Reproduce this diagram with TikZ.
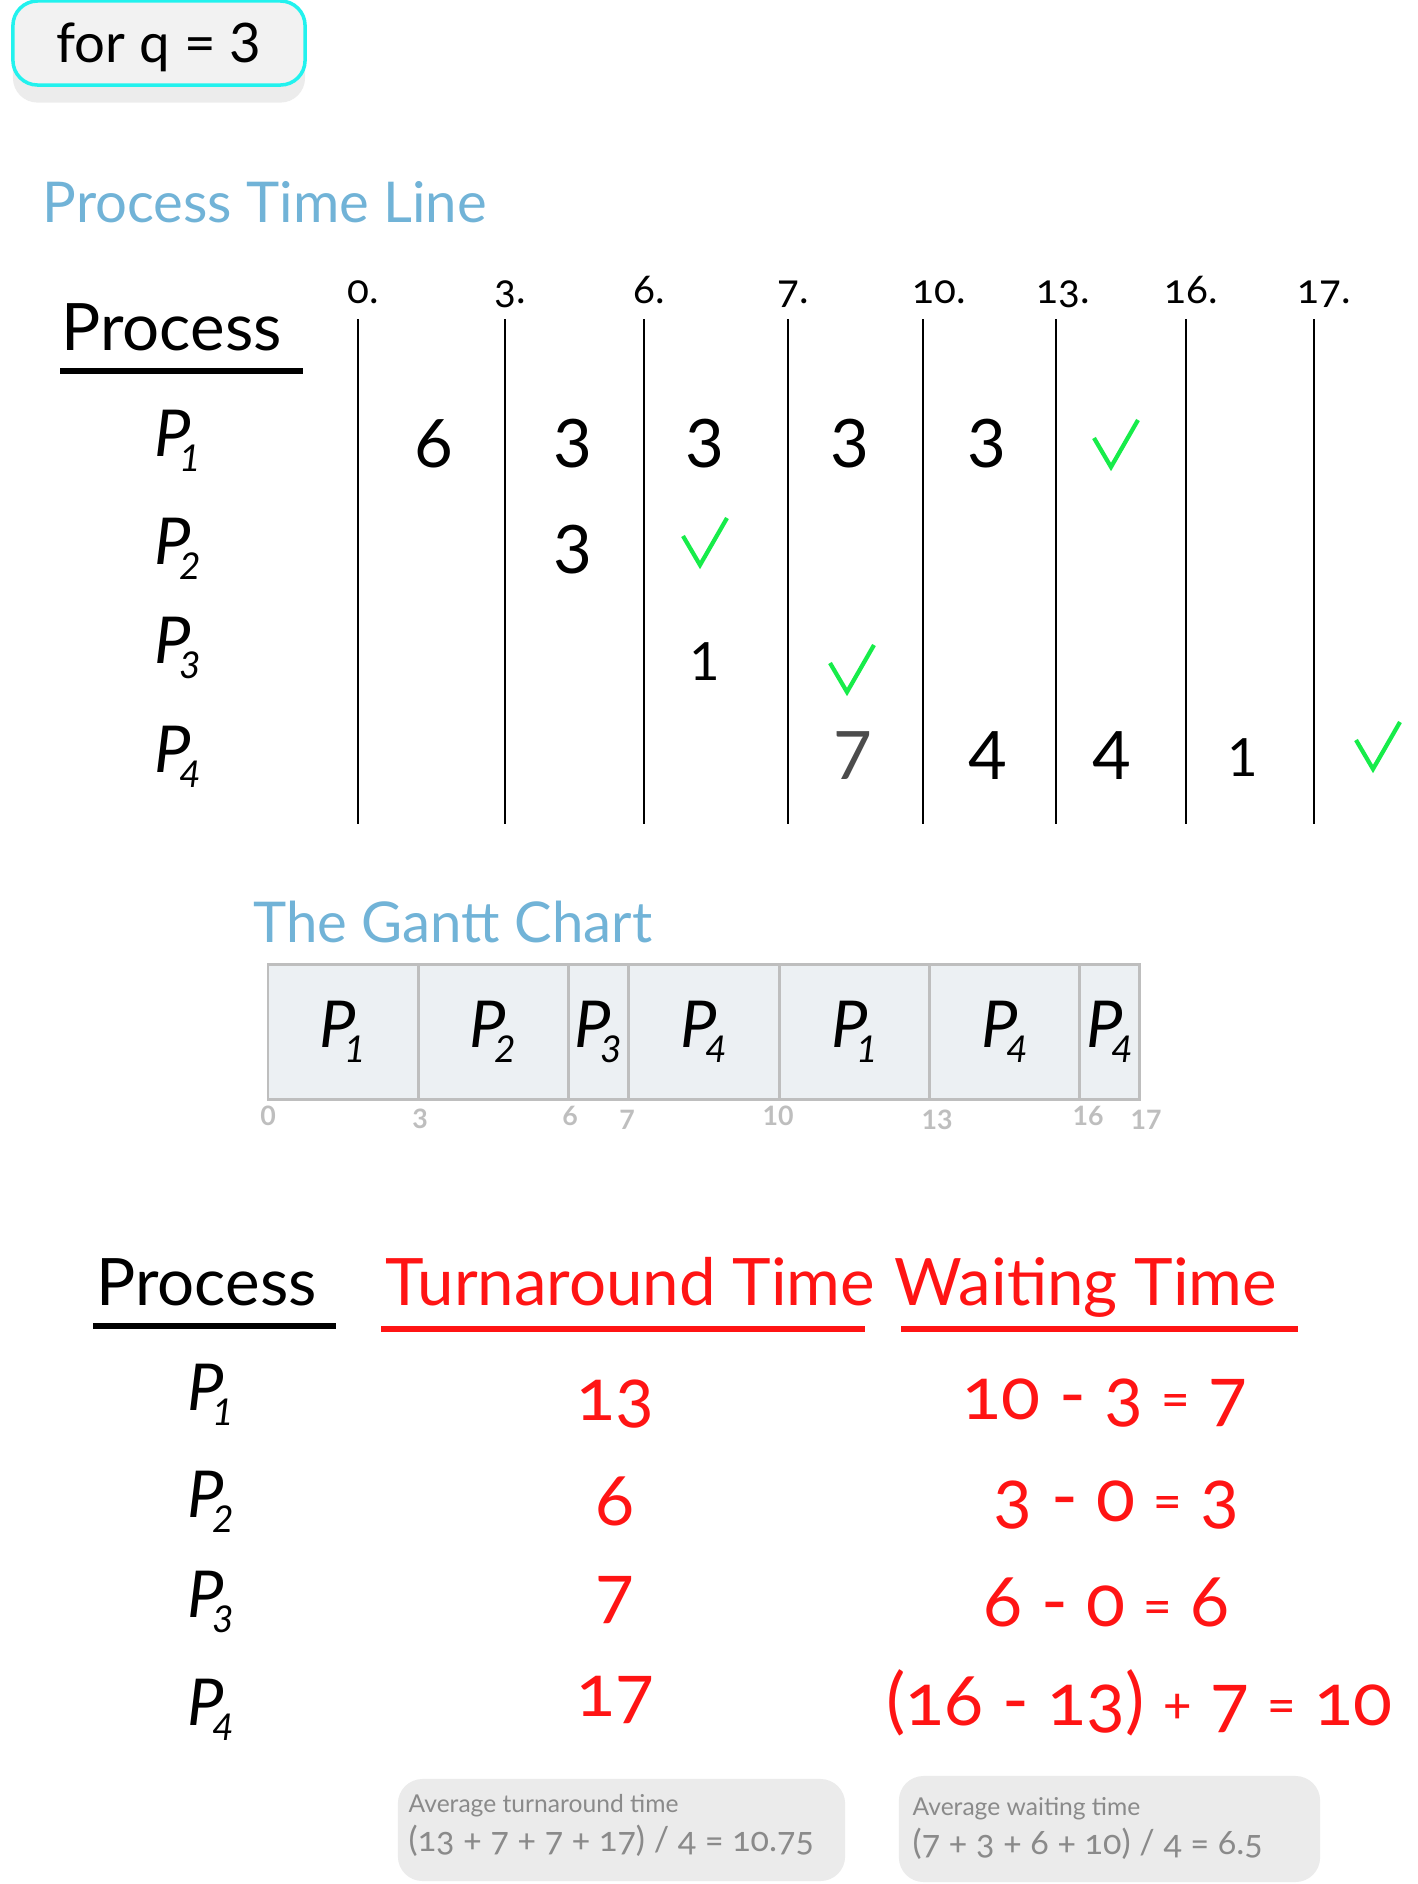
\documentclass[tikz,border=0pt]{standalone}
\usepackage{fontspec}
\setmainfont{Lato}
\newfontfamily\oldfig[Numbers=OldStyle]{Lato}
\usetikzlibrary{positioning, shadows}
\definecolor{tlblue}{HTML}{71B3D7}
\definecolor{tlred}{HTML}{FF1414}
\definecolor{tlgreen}{HTML}{17EC4A}
\definecolor{tlcyan}{HTML}{22F2EE}
\definecolor{ganttfill}{HTML}{ECF0F3}
\definecolor{ganttline}{HTML}{BEBEBE}
\definecolor{avgfill}{HTML}{EBEBEB}
\definecolor{avgtext}{HTML}{8A8A8A}

\newcommand{\pn}[1]{{\fontsize{18.4}{20}\selectfont\itshape P\kern-3.2pt\raisebox{-4.3pt}{\fontsize{10.5}{11}\selectfont #1}}}
\newcommand{\op}[1]{\raisebox{0.9pt}{\fontsize{15}{16}\selectfont #1}}

\tikzset{
    donemark/.pic={\draw[tlgreen, line width=1.2pt, line join=miter] (-22,-6) -- (-5,23) -- (22,-24);}
}

\begin{document}
\begin{tikzpicture}[x=0.01cm, y=-0.01cm,
    qbox/.style={draw=tlcyan, line width=1pt, fill=black!5, rounded corners=7pt,
                 minimum width=2.92cm, minimum height=0.84cm, text height=11.3pt, text depth=0pt,
                 font=\fontsize{15.5}{18}\selectfont, drop shadow={opacity=0.15, shadow xshift=0pt, shadow yshift=-5pt}},
    heading/.style={anchor=base west, text=tlblue, inner sep=0pt, font=\fontsize{16}{19}\selectfont},
    colhead/.style={anchor=base west, inner sep=0pt, font=\fontsize{18.6}{22}\selectfont},
    uline/.style={line width=#1},
    timelabel/.style={anchor=base west, inner sep=0pt, font=\oldfig\fontsize{11.5}{13}\selectfont},
    tline/.style={line width=0.75pt},
    cnt/.style={inner sep=0pt, font=\fontsize{19}{22}\selectfont},
    cntsmall/.style={inner sep=0pt, font=\fontsize{15}{18}\selectfont},
    plabel/.style={anchor=base west, inner sep=0pt},
    cell/.style={draw=ganttline, line width=0.85pt, fill=ganttfill, inner sep=0pt, outer sep=0pt,
                 minimum height=1.35cm},
    gtick/.style={inner sep=0pt, text=ganttline, font=\fontsize{7.6}{9}\selectfont\bfseries},
    val/.style={anchor=base, inner sep=0pt, text=tlred, font=\oldfig\fontsize{20.5}{24}\selectfont},
    avgbox/.style={fill=avgfill, rounded corners=7pt, inner sep=0pt},
    avgtop/.style={anchor=base west, inner sep=0pt, text=avgtext, font=\fontsize{7}{8}\selectfont},
    avgsum/.style={anchor=base west, inner sep=0pt, text=avgtext, font=\oldfig\fontsize{9.7}{11}\selectfont},
]
    \useasboundingbox (0,0) rectangle (1418,1884);

    % quantum
    \node[qbox] (q) at (159,43) {for q = 3};

    % process time line
    \node[heading] (tlhead) at (42,222) {Process Time Line};
    \node[colhead] (ph1) at (61,350) {Process};
    \draw[uline=1.45pt] (60,371) -- (303,371);
    \node[plabel] (p1) at (154,456) {\pn1};
    \node[plabel] (p2) at (154,564) {\pn2};
    \node[plabel] (p3) at (154,663) {\pn3};
    \node[plabel] (p4) at (154,772) {\pn4};

    \foreach \x/\t/\d in {358/0/11, 505/3/11, 644/6/11, 788/7/11, 923/10/11, 1056/13/20, 1186/16/22, 1314/17/17} {
        \node[timelabel] (t\t) at (\x-\d,303) {\t.};
        \draw[tline] (\x,319) -- (\x,824);
    }

    \node[cnt] (r1a) at (434,444) {6};
    \node[cnt] (r1b) at (573,444) {3};
    \node[cnt] (r1c) at (705,444) {3};
    \node[cnt] (r1d) at (850,444) {3};
    \node[cnt] (r1e) at (987,444) {3};
    \pic at (1116,444) {donemark};

    \node[cnt] (r2a) at (573,550) {3};
    \pic at (705,542) {donemark};

    \node[cntsmall] (r3a) at (705,662) {1};
    \pic at (852,669) {donemark};

    \node[cnt, text=black!70] (r4a) at (853,756) {7};
    \node[cnt] (r4b) at (988,756) {4};
    \node[cnt] (r4c) at (1112,756) {4};
    \node[cntsmall] (r4d) at (1243,758) {1};
    \pic at (1378,746) {donemark};

    % gantt chart
    \node[heading] (ghead) at (253,942) {The Gantt Chart};
    \node[cell, anchor=north west, minimum width=1.5cm] (g1) at (268,964) {\pn1};
    \node[cell, minimum width=1.5cm, right=0pt of g1] (g2) {\pn2};
    \node[cell, minimum width=0.6cm, right=0pt of g2] (g3) {\pn3};
    \node[cell, minimum width=1.51cm, right=0pt of g3] (g4) {\pn4};
    \node[cell, minimum width=1.5cm, right=0pt of g4] (g5) {\pn1};
    \node[cell, minimum width=1.5cm, right=0pt of g5] (g6) {\pn4};
    \node[cell, minimum width=0.6cm, right=0pt of g6] (g7) {\pn4};

    \node[gtick] (gt0) at (268,1116) {0};
    \node[gtick] (gt3) at (420,1119) {3};
    \node[gtick] (gt6) at (570,1116) {6};
    \node[gtick] (gt7) at (627,1119.5) {7};
    \node[gtick] (gt10) at (778,1116) {10};
    \node[gtick] (gt13) at (937,1119.5) {13};
    \node[gtick] (gt16) at (1088,1116) {16};
    \node[gtick] (gt17) at (1146,1119.5) {17};

    % turnaround and waiting
    \node[colhead] (ph2) at (96,1305) {Process};
    \node[colhead, text=tlred] (tat) at (385,1305) {Turnaround Time};
    \node[colhead, text=tlred] (wt) at (894,1305) {Waiting Time};
    \draw[uline=1.7pt] (93,1326) -- (336,1326);
    \draw[uline=1.7pt, tlred] (381,1329) -- (865,1329);
    \draw[uline=1.7pt, tlred] (901,1329) -- (1298,1329);

    \node[plabel] (s1) at (187,1410) {\pn1};
    \node[plabel] (s2) at (187,1517) {\pn2};
    \node[plabel] (s3) at (187,1617) {\pn3};
    \node[plabel] (s4) at (187,1725) {\pn4};

    \node[val] (ta1) at (615,1420) {13};
    \node[val] (ta2) at (615,1525) {6};
    \node[val] (ta3) at (615,1616) {7};
    \node[val] (ta4) at (615,1716) {17};

    \node[val, anchor=base west] (w1) at (962,1419) {10 - 3 \op{=} 7};
    \node[val, anchor=base west] (w2) at (993,1521) {3 - 0 \op{=} 3};
    \node[val, anchor=base west] (w3) at (983,1626) {6 - 0 \op{=} 6};
    \node[val, anchor=base west] (w4) at (886,1725) {(16 - 13) \op{+} 7 \op{=} 10};

    % averages
    \node[avgbox, minimum width=4.47cm, minimum height=1.02cm] (avg1) at (621.5,1830) {};
    \node[avgtop] (avg1a) at (408,1812) {Average turnaround time};
    \node[avgsum] (avg1b) at (408,1851) {(13 + 7 + 7 + 17) / 4 = 10.75};
    \node[avgbox, minimum width=4.21cm, minimum height=1.06cm] (avg2) at (1109.5,1829) {};
    \node[avgtop] (avg2a) at (912,1815) {Average waiting time};
    \node[avgsum] (avg2b) at (912,1854) {(7 + 3 + 6 + 10) / 4 = 6.5};
\end{tikzpicture}
\end{document}
